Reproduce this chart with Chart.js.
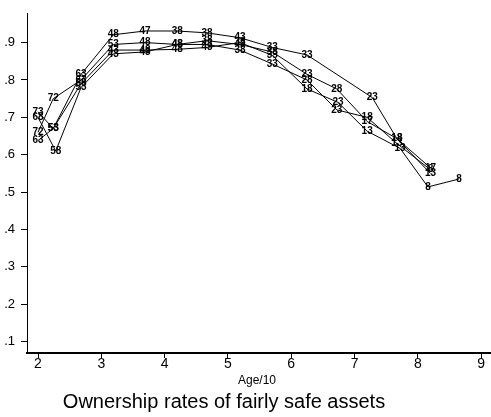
<!DOCTYPE html>
<html>
<head>
<meta charset="utf-8">
<script src="https://cdn.jsdelivr.net/npm/chart.js@4"></script>
<style>
  body { margin: 0; background: #fff; }
  #wrap { width: 491px; height: 417px; }
</style>
</head>
<body>
<div id="wrap"><canvas id="chart" width="491" height="417"></canvas></div>
<script>
// age/10 positions and ownership rates, one set per line
const s1Age = [2.0, 2.24, 2.68, 3.19, 3.69, 4.2, 4.67, 5.19, 5.7, 6.25, 7.28, 7.67, 8.2];
const s1Rate = [.715, .67, .815, .921, .931, .931, .926, .913, .887, .867, .753, .643, .565];
const s1Lab = ["73", "53", "63", "48", "47", "38", "38", "43", "33", "33", "23", "18", "17"];

const s2Age = [2.0, 2.24, 2.68, 3.19, 3.69, 4.2, 4.67, 5.19, 5.7, 6.25, 6.72, 7.2, 7.67, 8.2];
const s2Rate = [.66, .75, .80, .895, .90, .895, .905, .895, .875, .815, .776, .689, .643, .55];
const s2Lab = ["72", "72", "63", "53", "48", "48", "38", "43", "38", "23", "28", "17", "18", "13"];

const s3Age = [2.0, 2.24, 2.68, 3.19, 3.69, 4.2, 4.67, 5.19, 5.7, 6.25, 6.74, 7.2, 7.72, 8.16, 8.65];
const s3Rate = [.638, .67, .79, .88, .88, .882, .887, .90, .866, .776, .74, .663, .617, .514, .535];
const s3Lab = ["63", "53", "58", "43", "48", "48", "43", "38", "33", "18", "23", "13", "13", "8", "8"];

const s4Age = [2.0, 2.28, 2.68, 3.19, 3.69, 4.2, 4.67, 5.19, 5.7, 6.25, 6.72, 7.2, 7.67, 8.2];
const s4Rate = [.70, .61, .78, .87, .875, .895, .895, .88, .843, .80, .72, .70, .63, .56];
const s4Lab = ["68", "58", "53", "43", "43", "48", "43", "38", "33", "28", "23", "18", "13", "8"];

const xTicks = [2, 3, 4, 5, 6, 7, 8, 9];
const yTicks = [.1, .2, .3, .4, .5, .6, .7, .8, .9];

const FONT = "'Liberation Sans Narrow', 'Liberation Sans', Arial, sans-serif";

function series(ages, rates, labels) {
  return {
    data: ages.map((a, i) => ({ x: a, y: rates[i] })),
    labels: labels,
    showLine: true,
    borderColor: "#000",
    borderWidth: 1,
    pointRadius: 0,
    pointHoverRadius: 0,
    tension: 0
  };
}

const markerLabels = {
  id: "markerLabels",
  afterDatasetsDraw(chart) {
    const ctx = chart.ctx;
    ctx.save();
    ctx.fillStyle = "#000";
    ctx.font = "bold 10px " + FONT;
    ctx.textAlign = "center";
    ctx.textBaseline = "middle";
    chart.data.datasets.forEach((ds, d) => {
      chart.getDatasetMeta(d).data.forEach((pt, i) => {
        ctx.fillText(ds.labels[i], pt.x, pt.y);
      });
    });
    ctx.restore();
  },
  afterDraw(chart) {
    const ctx = chart.ctx;
    ctx.save();
    ctx.fillStyle = "#000";
    ctx.textAlign = "center";
    ctx.textBaseline = "alphabetic";
    ctx.font = "12px " + FONT;
    ctx.fillText("Age/10", 257, 384);
    ctx.font = "20px " + FONT;
    ctx.fillText("Ownership rates of fairly safe assets", 224, 408);
    ctx.restore();
  }
};

new Chart(document.getElementById("chart"), {
  type: "scatter",
  data: {
    datasets: [
      series(s1Age, s1Rate, s1Lab),
      series(s2Age, s2Rate, s2Lab),
      series(s3Age, s3Rate, s3Lab),
      series(s4Age, s4Rate, s4Lab)
    ]
  },
  options: {
    responsive: false,
    animation: false,
    layout: { padding: 0 },
    plugins: {
      legend: { display: false },
      tooltip: { enabled: false }
    },
    scales: {
      x: {
        type: "linear",
        min: 1.826,
        max: 9.156,
        afterBuildTicks: s => { s.ticks = xTicks.map(v => ({ value: v })); },
        afterFit: s => { s.height = 64; },
        grid: { drawOnChartArea: false, drawTicks: true, tickLength: 5, color: "#000" },
        border: { display: true, color: "#000", width: 2 },
        ticks: { color: "#000", font: { family: FONT, size: 14 }, padding: -2, maxRotation: 0 }
      },
      y: {
        type: "linear",
        min: 0.0697,
        max: 0.977,
        afterBuildTicks: s => { s.ticks = yTicks.map(v => ({ value: v })); },
        afterFit: s => { s.width = 27; },
        grid: { drawOnChartArea: false, drawTicks: true, tickLength: 6, color: "#000" },
        border: { display: true, color: "#000", width: 1 },
        ticks: {
          color: "#000",
          font: { family: FONT, size: 13 },
          padding: 6,
          callback: v => v.toFixed(1).replace(/^0/, "")
        }
      }
    }
  },
  plugins: [markerLabels]
});
</script>
</body>
</html>
